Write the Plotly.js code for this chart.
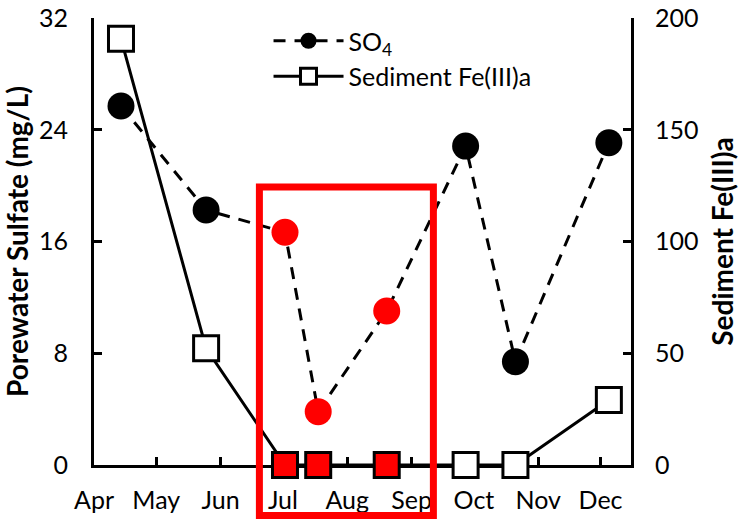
<!DOCTYPE html>
<html>
<head>
<meta charset="utf-8">
<script src="https://cdn.plot.ly/plotly-3.0.1.min.js"></script>
<style>
  html, body { margin: 0; padding: 0; background: #fff; }
  #chart { width: 741px; height: 521px; }
</style>
</head>
<body>
<div id="chart"></div>
<script>
// Sampling dates for the porewater / sediment survey
const sampleDates = ['2019-04-14', '2019-05-25', '2019-07-02', '2019-07-18',
                     '2019-08-20', '2019-09-27', '2019-10-21', '2019-12-05'];
// Porewater sulfate (mg/L)
const sulfate = [25.7, 18.25, 16.66, 3.82, 11.02, 22.83, 7.4, 23.07];
// Sediment Fe(III)a
const feIII = [190.7, 52.2, 0, 0, 0, 0, 0, 29.1];
// Summer window that is highlighted in red
const highlightStart = '2019-07-01';
const highlightEnd = '2019-09-01';

const FONT = 'Lato, "Open Sans", sans-serif';
const TICK_SIZE = 25;
const TITLE_SIZE = 28;

const inWindow = sampleDates.map(d => d >= highlightStart && d < highlightEnd);
const circleColors = inWindow.map(h => h ? '#FF0000' : '#000000');
const squareColors = inWindow.map(h => h ? '#FF0000' : '#FFFFFF');

const traces = [
  {
    name: 'SO<sub>4</sub>',
    x: sampleDates,
    y: sulfate,
    type: 'scatter',
    mode: 'lines+markers',
    yaxis: 'y',
    cliponaxis: false,
    line: { color: '#000', width: 3, dash: '12px,9px' },
    marker: { symbol: 'circle', size: 27, color: circleColors, line: { width: 0 } }
  },
  {
    name: 'Sediment Fe(III)a',
    x: sampleDates,
    y: feIII,
    type: 'scatter',
    mode: 'lines+markers',
    yaxis: 'y2',
    cliponaxis: false,
    line: { color: '#000', width: 3 },
    marker: { symbol: 'square', size: 25, color: squareColors, line: { color: '#000', width: 3 } }
  }
];

const axisCommon = {
  showline: true,
  linecolor: '#000',
  linewidth: 3,
  ticks: 'inside',
  ticklen: 8,
  tickwidth: 3,
  tickcolor: '#000',
  showgrid: false,
  zeroline: false,
  layer: 'below traces',
  tickfont: { family: FONT, size: TICK_SIZE, color: '#000' }
};

const layout = {
  width: 741,
  height: 521,
  margin: { l: 94, r: 110, t: 18, b: 56 },
  paper_bgcolor: '#fff',
  plot_bgcolor: '#fff',
  font: { family: FONT, color: '#000' },
  showlegend: true,
  legend: {
    x: 0.325, y: 1.0, xanchor: 'left', yanchor: 'top',
    bgcolor: 'rgba(0,0,0,0)',
    font: { family: FONT, size: TICK_SIZE, color: '#000' },
    itemwidth: 70
  },
  xaxis: Object.assign({}, axisCommon, {
    type: 'date',
    range: ['2019-04-01', '2019-12-15 16:00'],
    tick0: '2019-04-01',
    dtick: 'M1',
    tickformat: '%b',
    ticklabelstandoff: 11
  }),
  yaxis: Object.assign({}, axisCommon, {
    range: [0, 32],
    tick0: 0,
    dtick: 8,
    ticklabelstandoff: 18,
    title: { text: '<b>Porewater Sulfate (mg/L)</b>', font: { family: FONT, size: TITLE_SIZE, color: '#000' }, standoff: 6 }
  }),
  yaxis2: Object.assign({}, axisCommon, {
    overlaying: 'y',
    side: 'right',
    range: [0, 200],
    tick0: 0,
    dtick: 50,
    ticklabelstandoff: 16,
    title: { text: '<b>Sediment Fe(III)a</b>', font: { family: FONT, size: TITLE_SIZE, color: '#000' }, standoff: 16 }
  }),
  shapes: [
    {
      type: 'rect',
      xref: 'paper', yref: 'paper',
      x0: 0.308, x1: 0.632, y0: -0.113, y1: 0.622,
      line: { color: '#FF0000', width: 7 },
      fillcolor: 'rgba(0,0,0,0)',
      layer: 'above'
    }
  ]
};

Plotly.newPlot('chart', traces, layout, { staticPlot: true, displayModeBar: false });
</script>
</body>
</html>
